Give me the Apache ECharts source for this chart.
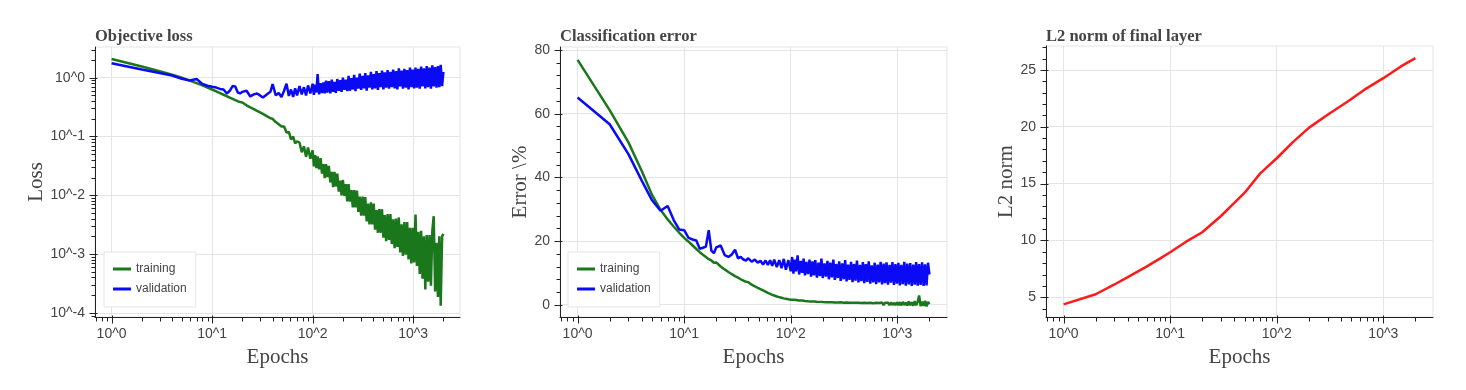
<!DOCTYPE html>
<html><head><meta charset="utf-8">
<script src="https://cdn.jsdelivr.net/npm/echarts@6/dist/echarts.min.js"></script>
<style>html,body{margin:0;padding:0;background:#fff}#c{width:1466px;height:390px}</style>
</head><body><div id="c"></div>
<script>
// ---------------- data ----------------
const epochs = [1,2,3,4,5,6,7,8,9,10,11,12,13,14,15,16,17,18,19,20,
22,24,26,28,30,32,34,36,38,40,43,46,49,52,55,58,61,64,67,70,
74,78,82,86,90,95,100,103,106,109,112,116,120,124,128,132,
136,140,145,150,155,160,165,170,176,182,188,194,200,207,214,221,
228,235,243,251,259,267,276,285,294,304,314,324,334,345,356,368,
380,392,405,418,432,446,460,475,490,506,522,539,557,575,594,613,
633,654,675,697,720,743,767,792,818,845,872,900,930,960,991,1023,
1056,1090,1126,1163,1200,1240,1280,1322,1365,1410,1456,1503,1552,1602,1654,1708,
1764,1821,1880,1941,2000];

const trainLoss = [2.08,1.55,1.29,1.12,1.0,0.89,0.81,0.74,0.68,0.63,0.586,0.547,0.513,0.484,0.459,0.437,0.417,0.398,0.385,0.378,
0.339,0.313,0.292,0.272,0.257,0.243,0.229,0.216,0.204,0.2,0.176,0.162,0.148,0.148,0.117,0.12,0.089,0.1,0.076,0.083,
0.079,0.054,0.068,0.045,0.065,0.042,0.058,0.031,0.048,0.029,0.046,0.0275,0.043,0.0234,0.034,0.0195,
0.034,0.0204,0.0316,0.0166,0.0251,0.0138,0.0251,0.0141,0.0234,0.0115,0.0178,0.01,0.0182,0.0098,0.0155,0.0079,
0.0155,0.0078,0.0123,0.0062,0.0123,0.0062,0.012,0.0052,0.0095,0.0045,0.0095,0.0045,0.0093,0.0036,0.0072,0.0032,
0.0076,0.0032,0.0072,0.0026,0.0056,0.0023,0.0058,0.0023,0.0058,0.0019,0.0046,0.00166,0.0048,0.00174,0.0048,0.00148,
0.0039,0.00126,0.004,0.00132,0.0042,0.00107,0.0032,0.00093,0.0035,0.00098,0.0035,0.00081,0.0028,0.00069,0.0028,0.00072,
0.0047,0.00063,0.0024,0.00046,0.0025,0.00038,0.002,0.00025,0.0021,0.00034,0.0021,0.00029,0.0025,0.0044,0.00023,0.00155,
0.000186,0.002,0.000132,0.002,0.0022];

const valLoss = [1.76,1.38,1.2,1.09,0.96,0.9,0.95,0.78,0.73,0.70,0.68,0.645,0.63,0.54,0.6,0.72,0.71,0.56,0.54,0.575,
0.60,0.48,0.52,0.54,0.5,0.46,0.5,0.54,0.575,0.78,0.5,0.55,0.47,0.6,0.79,0.49,0.63,0.47,0.66,0.5,
0.72,0.52,0.69,0.5,0.74,0.54,0.79,0.51,0.76,0.56,1.15,0.52,0.81,0.55,0.83,0.54,
0.89,0.56,0.87,0.54,0.93,0.575,0.85,0.55,0.95,0.6,0.91,0.575,1.0,0.62,0.93,0.59,
1.07,0.6,0.98,0.63,1.12,0.59,1.0,0.65,1.17,0.62,1.07,0.66,1.2,0.6,1.1,0.68,
1.26,0.63,1.15,0.66,1.29,0.62,1.2,0.69,1.32,0.63,1.23,0.68,1.35,0.65,1.26,0.69,
1.38,0.66,1.29,0.63,1.45,0.71,1.32,0.65,1.41,0.68,1.35,0.63,1.48,0.69,1.38,0.66,
1.48,0.68,1.41,0.65,1.55,0.71,1.45,0.66,1.58,0.69,1.48,0.65,1.62,0.71,1.51,0.68,
1.58,0.69,1.66,0.72,1.26];

const trainErr = [76.9,61.1,51.0,42.0,34.5,29.8,26.8,24.5,22.6,21.0,19.8,18.6,17.5,16.5,15.7,15.0,14.3,13.9,13.2,13.3,
12.0,11.1,10.3,9.6,9.0,8.5,8.0,7.6,7.2,7.1,6.3,5.8,5.3,4.9,4.5,4.1,3.7,3.4,3.1,2.9,
2.6,2.4,2.2,2.0,1.85,1.7,1.6,1.4,1.6,1.3,1.5,1.2,1.35,1.1,1.3,1.0,
1.2,0.9,1.1,0.8,1.0,0.75,1.0,0.7,0.95,0.6,0.9,0.55,0.85,0.5,0.8,0.45,
0.8,0.4,0.75,0.35,0.7,0.3,0.7,0.25,0.75,0.2,0.65,0.2,0.7,0.15,0.6,0.1,
0.65,0.1,0.6,0.05,0.65,0.1,0.55,0.0,0.6,0.05,0.55,0.0,0.6,0.05,0.5,-0.05,
0.6,0.0,0.55,-0.05,0.7,-0.1,0.6,0.0,0.65,-0.1,0.7,-0.05,0.6,-0.15,0.75,-0.1,
0.8,-0.2,0.9,-0.1,0.7,-0.25,1.0,-0.15,0.8,-0.3,1.1,-0.2,0.9,2.9,-0.4,1.0,
-0.35,1.2,-0.5,0.9,0.2];

const valErr = [65.1,56.7,47.3,39.0,32.8,29.5,31.0,26.5,23.6,23.4,21.0,20.5,20.2,17.6,17.9,18.3,23.4,17.0,16.2,18.0,
18.6,15.6,15.0,15.8,17.3,14.6,15.0,14.2,13.9,14.6,13.5,14.2,13.2,13.8,12.6,13.9,12.5,14.0,12.2,14.2,
11.8,14.0,11.5,14.4,11.0,14.0,10.5,15.0,9.8,14.2,10.5,15.5,9.5,13.8,10.0,14.5,
9.2,13.5,9.6,14.2,8.8,13.6,9.2,14.0,8.5,13.2,9.0,14.5,8.4,13.0,8.8,13.8,
8.0,13.2,8.6,14.2,7.8,12.8,8.4,13.6,7.5,13.0,8.0,14.0,7.3,12.6,7.8,13.5,
7.1,12.8,7.6,13.9,7.0,12.5,7.4,13.4,6.8,12.8,7.2,13.6,6.6,12.4,7.0,13.2,
6.5,12.6,7.0,13.5,6.4,12.9,6.8,13.3,6.3,12.5,6.9,13.4,6.2,12.8,6.6,13.2,
6.1,12.5,6.5,13.5,6.0,12.9,6.4,13.1,5.9,12.6,6.3,13.4,6.0,12.8,6.2,13.3,
5.9,12.7,6.1,13.2,9.5];

const l2Epochs = [1,2,3,4,6,8,10,14,20,30,40,50,70,100,140,200,300,460,660,1000,1450,2000];
const l2Norm = [4.38,5.27,6.13,6.78,7.7,8.4,8.96,9.87,10.72,12.15,13.3,14.2,15.9,17.23,18.6,19.9,21.06,22.2,23.24,24.27,25.28,26.03];

// ---------------- ticks ----------------
const epochTickValues = [1,10,100,1000];
const epochTickLabels = ['10^0','10^1','10^2','10^3'];
const epochMinorTicks = [0.7,0.8,0.9,2,3,4,5,6,7,8,9,20,30,40,50,60,70,80,90,200,300,400,500,600,700,800,900,2000];
const lossTickValues = [0.0001,0.001,0.01,0.1,1];
const lossTickLabels = ['10^-4','10^-3','10^-2','10^-1','10^0'];
const lossMinorTicks = [0.00009,0.0002,0.0003,0.0004,0.0005,0.0006,0.0007,0.0008,0.0009,
  0.002,0.003,0.004,0.005,0.006,0.007,0.008,0.009,0.02,0.03,0.04,0.05,0.06,0.07,0.08,0.09,
  0.2,0.3,0.4,0.5,0.6,0.7,0.8,0.9,2,3];
const errTickValues = [0,20,40,60,80];
const errTickLabels = ['0','20','40','60','80'];
const errMinorTicks = [4,8,12,16,24,28,32,36,44,48,52,56,64,68,72,76];
const l2TickValues = [5,10,15,20,25];
const l2TickLabels = ['5','10','15','20','25'];
const l2MinorTicks = [4,6,7,8,9,11,12,13,14,16,17,18,19,21,22,23,24,26,27];

const titles = ['Objective loss','Classification error','L2 norm of final layer'];
const seriesNames = ['training','validation'];

// ---------------- styling ----------------
const SANS = '"Liberation Sans", Arial, sans-serif';
const SERIF = '"Liberation Serif", "Times New Roman", serif';
const GREEN = '#1b771b';
const BLUE = '#0a0af5';
const RED = '#ff1a1a';
const AXIS = '#222';
const GRID = '#e5e5e5';
const TEXT = '#444';

function nearestLabel(values, labels, v, isLog) {
  let best = 0, bd = Infinity;
  values.forEach((t, i) => {
    const d = isLog ? Math.abs(Math.log(t) - Math.log(v)) : Math.abs(t - v);
    if (d < bd) { bd = d; best = i; }
  });
  return labels[best];
}
function axis(o) {
  return {
    type: o.type, gridIndex: o.grid, position: o.position, min: o.min, max: o.max,
    name: o.name, nameLocation: 'middle', nameGap: o.nameGap,
    nameTextStyle: {fontFamily: SERIF, fontSize: 21, color: TEXT},
    axisLine: {show: true, onZero: false, lineStyle: {color: AXIS, width: 1}},
    axisTick: {show: false, customValues: o.ticks},
    axisLabel: {show: true, customValues: o.ticks, margin: o.margin, fontSize: 14, color: TEXT, fontFamily: SANS,
      formatter: v => nearestLabel(o.ticks, o.labels, v, o.type === 'log')},
    splitLine: {show: true, lineStyle: {color: GRID, width: 1}},
    minorTick: {show: false}, minorSplitLine: {show: false}
  };
}

const X_MIN = 0.684, X_MAX = 2925;
const yRange = [[0.000085, 3.33], [-3.85, 80.95], [3.27, 27.1]];
const grids = [
  {left: 95, top: 47, width: 365, height: 270},
  {left: 560, top: 47, width: 387, height: 270},
  {left: 1046, top: 46, width: 387, height: 271}
].map(g => Object.assign({show: true, borderColor: GRID, borderWidth: 1, backgroundColor: 'transparent', containLabel: false}, g));

const xAxes = [0,1,2].map(g => axis({type: 'log', grid: g, position: 'bottom', min: X_MIN, max: X_MAX, name: 'Epochs', nameGap: 30,
  ticks: epochTickValues, labels: epochTickLabels, margin: 10}));
const yAxes = [
  axis({type: 'log', grid: 0, position: 'left', min: yRange[0][0], max: yRange[0][1], name: 'Loss', nameGap: 48,
    ticks: lossTickValues, labels: lossTickLabels, margin: 10}),
  axis({type: 'value', grid: 1, position: 'left', min: yRange[1][0], max: yRange[1][1], name: 'Error \\%', nameGap: 28,
    ticks: errTickValues, labels: errTickLabels, margin: 10}),
  axis({type: 'value', grid: 2, position: 'left', min: yRange[2][0], max: yRange[2][1], name: 'L2 norm', nameGap: 28,
    ticks: l2TickValues, labels: l2TickLabels, margin: 10})
];

function line(name, g, xs, ys, color, width) {
  return {
    type: 'line', name: name, xAxisIndex: g, yAxisIndex: g,
    data: xs.map((x, i) => [x, ys[i]]),
    showSymbol: false, symbol: 'none', clip: true, animation: false,
    lineStyle: {color: color, width: width}, itemStyle: {color: color},
    emphasis: {disabled: true}
  };
}
// axis tick marks placed through the axis scales (major: 6 out / 2 in, minor: 4 out)
function tickSeries(g, dim, values, outLen, inLen) {
  const refX = X_MIN, refY = yRange[g][0];
  return {
    type: 'custom', name: 'ticks', xAxisIndex: g, yAxisIndex: g, silent: true, clip: false, animation: false, z: 5,
    data: values.map(v => dim === 'x' ? [v, refY] : [refX, v]),
    encode: {x: 0, y: 1},
    renderItem: (params, api) => {
      const cs = params.coordSys;
      const p = api.coord([api.value(0), api.value(1)]);
      if (dim === 'x') {
        const x = Math.round(p[0]) + 0.5, yb = Math.round(cs.y + cs.height) + 0.5;
        return {type: 'line', shape: {x1: x, y1: yb - inLen, x2: x, y2: yb + outLen}, style: {stroke: AXIS, lineWidth: 1}};
      }
      const y = Math.round(p[1]) + 0.5, xl = Math.round(cs.x) + 0.5;
      return {type: 'line', shape: {x1: xl - outLen, y1: y, x2: xl + inLen, y2: y}, style: {stroke: AXIS, lineWidth: 1}};
    }
  };
}

const legendBase = {
  orient: 'vertical', itemWidth: 18, itemHeight: 3, itemGap: 8, icon: 'rect',
  padding: [11, 9, 12, 9], borderColor: GRID, borderWidth: 1, backgroundColor: '#fff',
  textStyle: {fontSize: 12, color: TEXT, fontFamily: SANS}, data: seriesNames, selectedMode: false
};

const titleStyle = {fontFamily: SERIF, fontWeight: 'bold', fontSize: 16.5, color: TEXT};
const option = {
  animation: false,
  textStyle: {fontFamily: SANS},
  title: [
    {text: titles[0], left: 95, top: 28, padding: 0, textStyle: titleStyle},
    {text: titles[1], left: 560, top: 28, padding: 0, textStyle: titleStyle},
    {text: titles[2], left: 1046, top: 28, padding: 0, textStyle: titleStyle}
  ],
  grid: grids,
  xAxis: xAxes,
  yAxis: yAxes,
  legend: [
    Object.assign({left: 104, top: 252}, legendBase),
    Object.assign({left: 568, top: 252}, legendBase)
  ],
  series: [
    line(seriesNames[0], 0, epochs, trainLoss, GREEN, 2.5),
    line(seriesNames[1], 0, epochs, valLoss, BLUE, 2.5),
    line(seriesNames[0], 1, epochs, trainErr, GREEN, 2.5),
    line(seriesNames[1], 1, epochs, valErr, BLUE, 2.5),
    line('l2', 2, l2Epochs, l2Norm, RED, 2.5),
    tickSeries(0, 'x', epochTickValues, 6, 2), tickSeries(0, 'x', epochMinorTicks, 4, 0),
    tickSeries(1, 'x', epochTickValues, 6, 2), tickSeries(1, 'x', epochMinorTicks, 4, 0),
    tickSeries(2, 'x', epochTickValues, 6, 2), tickSeries(2, 'x', epochMinorTicks, 4, 0),
    tickSeries(0, 'y', lossTickValues, 6, 2), tickSeries(0, 'y', lossMinorTicks, 4, 0),
    tickSeries(1, 'y', errTickValues, 6, 2), tickSeries(1, 'y', errMinorTicks, 4, 0),
    tickSeries(2, 'y', l2TickValues, 6, 2), tickSeries(2, 'y', l2MinorTicks, 4, 0)
  ]
};
const chart = echarts.init(document.getElementById('c'), null, {renderer: 'canvas'});
chart.setOption(option);
</script>
</body></html>
